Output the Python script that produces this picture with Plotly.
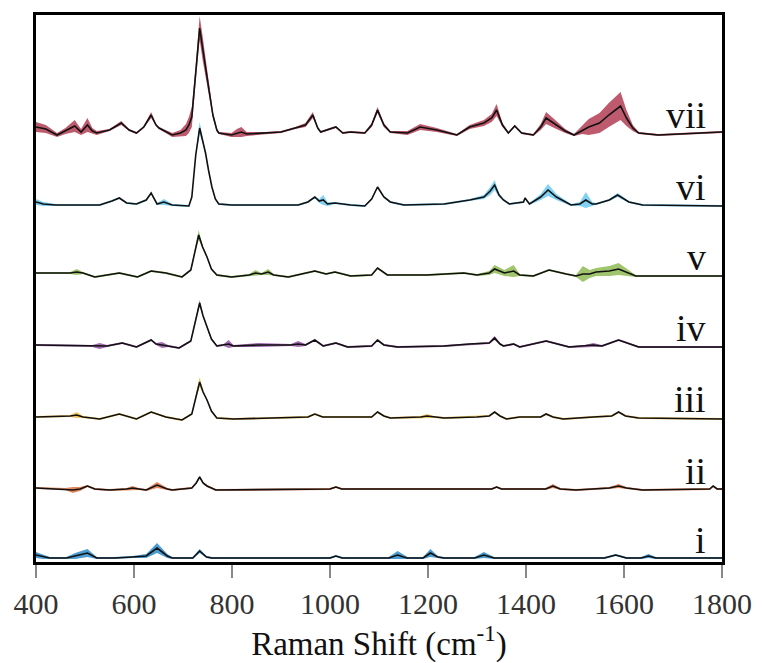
import plotly.graph_objects as go

# ---------------- data ----------------
# Each spectrum: (Raman shift cm-1, mean intensity a.u., standard deviation a.u.)
LABELS = ["i", "ii", "iii", "iv", "v", "vi", "vii"]
OFFSETS = [4, 73, 145, 216, 287, 357, 429]  # vertical stacking offsets (a.u.)
COLORS = [(0, 114, 189), (217, 83, 25), (237, 177, 32), (126, 47, 142),
          (119, 172, 48), (77, 190, 238), (162, 20, 47)]

SPEC_I = [(400, 3, 3), (415, 1, 2), (428, 0, 1), (462, 0, 1), (480, 2, 3), (505, 5, 4),
          (524, 0, 1), (560, 0, 1), (597, 1, 1), (625, 2, 2), (647, 10, 5), (668, 2, 2),
          (678, 0, 1), (720, 0, 1), (734, 7, 2), (748, 1, 1), (759, 0, 1), (1000, 0, 1),
          (1012, 2, 1), (1025, 0, 1), (1120, 0, 1), (1138, 3, 4), (1150, 1, 2), (1158, 0, 1),
          (1190, 0, 1), (1205, 5, 4), (1220, 1, 1), (1233, 0, 1), (1295, 0, 1), (1314, 3, 3),
          (1335, 0, 1), (1366, 0, 1), (1560, 0, 1), (1583, 3, 1), (1605, 0, 1), (1635, 0, 1),
          (1650, 2, 2), (1665, 0, 1), (1800, 0, 1)]

SPEC_II = [(400, 1, 1), (460, 0, 1), (475, -1, 3), (490, 0, 2), (505, 3, 1), (520, 0, 1),
           (550, -1, 1), (585, 0, 1), (597, 1, 2), (610, 0, 1), (625, -1, 1), (647, 4, 3),
           (668, 0, 1), (678, -1, 1), (718, 1, 1), (727, 6, 1), (734, 12, 1), (741, 6, 1),
           (749, 3, 1), (767, -1, 1), (1000, 0, 1), (1012, 2, 1), (1024, 0, 1), (1097, 0, 1),
           (1330, 0, 1), (1340, 2, 1), (1350, 0, 1), (1440, 0, 1), (1455, 3, 2), (1470, 0, 1),
           (1502, -1, 1), (1570, 1, 1), (1589, 3, 2), (1605, 1, 1), (1638, -1, 1), (1775, 0, 1),
           (1782, 3, 1), (1790, 0, 1), (1800, 0, 1)]

SPEC_III = [(400, 0, 1), (470, 1, 1), (483, 2, 3), (496, 0, 1), (530, -2, 1), (570, 3, 1),
            (605, -2, 1), (635, 5, 1), (665, 0, 1), (698, -3, 1), (718, 3, 1), (726, 20, 1),
            (734, 35, 5), (741, 25, 1), (749, 17, 1), (758, 6, 1), (769, -1, 1), (803, -2, 1),
            (955, 0, 1), (969, 3, 1), (985, 0, 1), (1006, 0, 1), (1085, 0, 1), (1097, 5, 1),
            (1110, 1, 1), (1123, -1, 1), (1185, 0, 1), (1198, 1, 2), (1212, 0, 1), (1233, -1, 1),
            (1300, 0, 1), (1325, 1, 1), (1336, 5, 1), (1347, 1, 1), (1360, -2, 1), (1387, 0, 1),
            (1430, 0, 1), (1441, 3, 1), (1455, 0, 1), (1476, -2, 1), (1537, 0, 1), (1575, 1, 1),
            (1589, 5, 1), (1603, 1, 1), (1630, -1, 1), (1800, -2, 1)]

SPEC_IV = [(400, 1, 1), (515, 0, 1), (530, 0, 3), (545, 0, 1), (576, 3, 1), (605, -1, 1),
           (635, 6, 1), (645, 2, 1), (657, 1, 3), (670, 0, 1), (692, -2, 1), (716, 5, 1),
           (725, 25, 1), (734, 43, 3), (741, 30, 1), (749, 19, 1), (758, 7, 1), (769, 0, 1),
           (783, 1, 1), (793, 2, 4), (803, 0, 1), (854, 1, 2), (920, 1, 1), (935, 2, 3),
           (950, 1, 1), (969, 6, 1), (986, 0, 1), (1012, 3, 1), (1036, -1, 1), (1085, 0, 1),
           (1097, 6, 1), (1110, 1, 1), (1138, -1, 1), (1233, 0, 1), (1285, 2, 1), (1325, 3, 1),
           (1336, 8, 2), (1347, 2, 1), (1354, 0, 1), (1375, 2, 1), (1387, -1, 1), (1441, 5, 1),
           (1488, -1, 1), (1520, 0, 1), (1537, 1, 2), (1555, 0, 1), (1589, 6, 1), (1630, -1, 1),
           (1800, -1, 1)]

SPEC_V = [(400, 2, 1), (470, 2, 1), (483, 3, 3), (496, 2, 1), (520, -2, 1), (570, 2, 1),
          (607, -2, 1), (635, 4, 1), (665, 2, 1), (698, -2, 1), (716, 5, 1), (725, 25, 1),
          (732, 40, 5), (740, 28, 1), (749, 18, 1), (758, 6, 1), (769, 0, 1), (799, -2, 1),
          (835, 0, 1), (848, 2, 3), (860, 1, 1), (874, 3, 3), (885, 0, 1), (915, -2, 1),
          (969, 4, 1), (992, 1, 1), (1010, 3, 1), (1042, -1, 1), (1085, 0, 1), (1097, 7, 1),
          (1117, 0, 1), (1198, 0, 1), (1273, 2, 1), (1300, 0, 1), (1325, 2, 2), (1336, 6, 4),
          (1356, 2, 3), (1375, 4, 6), (1387, 0, 1), (1415, -1, 1), (1447, 5, 1), (1482, 1, 1),
          (1502, -1, 1), (1516, 1, 8), (1530, 1, 4), (1543, 3, 4), (1570, 4, 5), (1589, 6, 6),
          (1610, 2, 3), (1624, -1, 1), (1705, -1, 1), (1800, -1, 1)]

SPEC_VI = [(400, 3, 3), (415, 1, 2), (440, 0, 1), (530, 0, 1), (555, 4, 1), (570, 7, 1),
           (585, 2, 1), (605, 1, 1), (625, 5, 1), (635, 12, 1), (647, 1, 1), (661, 3, 3),
           (678, 0, 1), (712, -1, 1), (718, 8, 1), (726, 50, 2), (734, 77, 6), (740, 65, 3),
           (746, 52, 2), (752, 35, 1), (759, 18, 1), (766, 6, 1), (773, 1, 1), (799, 0, 1),
           (935, 0, 1), (955, 3, 1), (969, 8, 1), (978, 4, 2), (986, 5, 5), (995, 1, 2),
           (1010, 2, 1), (1042, 0, 1), (1071, -1, 1), (1085, 6, 1), (1097, 18, 1), (1110, 8, 1),
           (1123, 3, 1), (1151, 0, 1), (1233, 1, 1), (1285, 5, 1), (1314, 8, 2), (1327, 14, 4),
           (1336, 20, 5), (1345, 10, 2), (1354, 5, 1), (1366, 1, 1), (1395, 3, 1), (1398, 7, 1),
           (1407, 1, 1), (1430, 8, 3), (1445, 15, 6), (1462, 8, 3), (1492, 0, 1), (1510, 1, 2),
           (1522, 5, 8), (1535, 1, 2), (1543, 1, 1), (1570, 5, 1), (1587, 10, 2), (1610, 3, 1),
           (1638, 0, 1), (1800, -1, 1)]

SPEC_VII = [(400, 6, 5), (420, 4, 4), (443, -2, 2), (460, 2, 3), (479, 7, 6), (492, 1, 3),
            (505, 8, 7), (515, 2, 3), (524, 0, 2), (550, 3, 1), (574, 10, 2), (590, 3, 1),
            (605, 0, 1), (620, 6, 1), (635, 18, 3), (645, 8, 1), (651, 5, 1), (678, -2, 2),
            (695, 0, 3), (706, 3, 6), (712, 8, 8), (718, 16, 10), (726, 60, 8), (734, 105, 12),
            (740, 85, 12), (746, 66, 10), (752, 45, 6), (761, 18, 3), (769, 3, 2), (773, 0, 1),
            (799, -2, 2), (810, 0, 4), (819, 1, 5), (830, -1, 2), (868, 0, 1), (900, 1, 1),
            (929, 5, 1), (950, 8, 2), (965, 18, 3), (975, 5, 1), (981, 1, 1), (1012, 6, 1),
            (1026, 0, 1), (1042, 1, 1), (1071, 0, 1), (1085, 8, 2), (1097, 23, 3), (1110, 8, 2),
            (1123, 1, 1), (1158, 0, 2), (1184, 6, 3), (1218, 3, 2), (1259, -2, 1), (1285, 6, 2),
            (1314, 10, 3), (1330, 15, 4), (1340, 23, 6), (1352, 8, 2), (1364, 0, 1), (1377, 7, 1),
            (1391, 0, 1), (1415, -2, 1), (1430, 6, 3), (1441, 15, 6), (1462, 8, 4), (1480, 2, 2),
            (1498, -2, 1), (1515, 3, 4), (1528, 6, 8), (1550, 10, 10), (1569, 18, 12),
            (1593, 27, 14), (1605, 15, 8), (1618, 5, 3), (1630, 0, 1), (1670, -2, 1), (1800, 1, 1)]

X_TICKS = [400, 600, 800, 1000, 1200, 1400, 1600, 1800]

SERIES = [SPEC_I, SPEC_II, SPEC_III, SPEC_IV, SPEC_V, SPEC_VI, SPEC_VII]

# ---------------- figure ----------------
FONT = "Liberation Serif, Times New Roman, serif"
fig = go.Figure()

for spec, off, col, lab in zip(SERIES, OFFSETS, COLORS, LABELS):
    xs = [p[0] for p in spec]
    mean = [off + p[1] for p in spec]
    upper = [off + p[1] + p[2] for p in spec]
    lower = [off + p[1] - p[2] for p in spec]
    fc = "rgba(%d,%d,%d,0.7)" % col
    fig.add_trace(go.Scatter(x=xs, y=upper, mode="lines", line=dict(width=0),
                             hoverinfo="skip", showlegend=False))
    fig.add_trace(go.Scatter(x=xs, y=lower, mode="lines", line=dict(width=0),
                             fill="tonexty", fillcolor=fc,
                             hoverinfo="skip", showlegend=False))
    fig.add_trace(go.Scatter(x=xs, y=mean, mode="lines",
                             line=dict(color="#111111", width=1.6),
                             name=lab, showlegend=False))
    fig.add_annotation(x=1772, y=off + 18, xref="x", yref="y", text=lab,
                       showarrow=False, xanchor="right", yanchor="middle",
                       font=dict(family=FONT, size=38, color="#111111"))

fig.update_layout(
    width=764, height=663,
    margin=dict(l=36, r=36, t=15, b=101),
    paper_bgcolor="white", plot_bgcolor="white",
    font=dict(family=FONT, color="#333333"),
    showlegend=False,
)
fig.update_xaxes(
    range=[400, 1800], tickvals=X_TICKS, ticktext=[str(t) for t in X_TICKS],
    showline=True, linewidth=3, linecolor="black", mirror=True,
    ticks="outside", ticklen=13, tickwidth=1.5, tickcolor="#888888",
    tickfont=dict(family=FONT, size=30, color="#333333"),
    showgrid=False, zeroline=False,
    title=dict(text="Raman Shift (cm<sup>-1</sup>)",
               font=dict(family=FONT, size=33, color="#111111"), standoff=6),
)
fig.update_yaxes(
    range=[0, 547], showline=True, linewidth=3, linecolor="black", mirror=True,
    showticklabels=False, ticks="", showgrid=False, zeroline=False,
)

fig.write_html("out.html")
